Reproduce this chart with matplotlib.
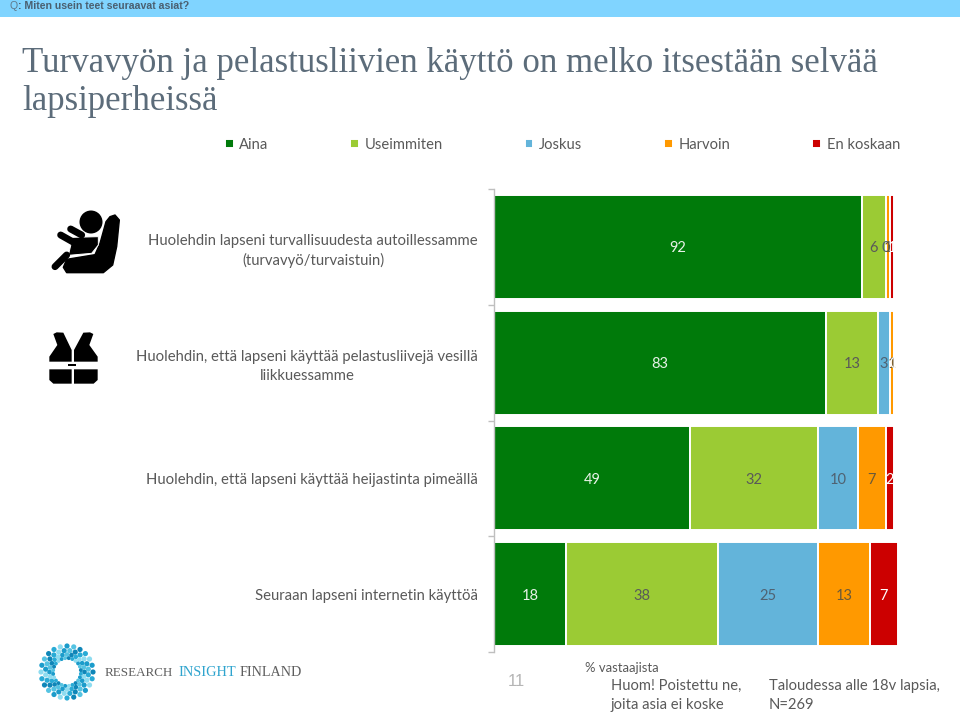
import numpy as np
import matplotlib
matplotlib.use('Agg')
import matplotlib.pyplot as plt
from matplotlib.patches import Polygon, Circle, Rectangle

# chart data
questions = ['Huolehdin lapseni turvallisuudesta autoillessamme\n(turvavyö/turvaistuin)',
             'Huolehdin, että lapseni käyttää pelastusliivejä vesillä\nliikkuessamme',
             'Huolehdin, että lapseni käyttää heijastinta pimeällä',
             'Seuraan lapseni internetin käyttöä']
aina = [92, 83, 49, 18]
useimmiten = [6, 13, 32, 38]
joskus = [0, 3, 10, 25]
harvoin = [1, 1, 7, 13]
en_koskaan = [1, 0, 2, 7]

series_names = ['Aina', 'Useimmiten', 'Joskus', 'Harvoin', 'En koskaan']
series_values = [aina, useimmiten, joskus, harvoin, en_koskaan]
series_colors = ['#007A0A', '#9BCB34', '#63B4DA', '#FF9900', '#CC0000']
label_colors = ['#E8F2E8', '#595959', '#4F6272', '#6B5A38', '#FFFFFF']

GRAY = '#595959'
W, H = 960, 715
plt.rcParams['font.family'] = ['Lato', 'DejaVu Sans']

fig = plt.figure(figsize=(W / 100, H / 100), dpi=100)

# pixel canvas for the header, icons and footer
bg = fig.add_axes([0, 0, 1, 1])
bg.set_xlim(0, W)
bg.set_ylim(H, 0)
bg.axis('off')

bg.add_patch(Rectangle((0, 0), W, 17, color='#80D4FF', lw=0))
bg.text(10, 6, 'Q', family='Liberation Sans', fontsize=7.6, color='#5F7A8C', va='center')
bg.text(18.3, 6, ': Miten usein teet seuraavat asiat?', family='Liberation Sans', fontsize=7.6,
        fontweight='bold', color='#4A5F70', va='center')

bg.text(22, 63.5, 'Turvavyön ja pelastusliivien käyttö on melko itsestään selvää',
        family='Liberation Serif', fontsize=25.1, color='#5C6C7A', va='center')
bg.text(22, 101.5, 'lapsiperheissä', family='Liberation Serif', fontsize=25.1, color='#5C6C7A', va='center')


def zoomed(points, ox=0, oy=180):
    return [(x / 3 + ox, y / 3 + oy) for x, y in points]


# car seat icon
seat = [(330, 110), (345, 105), (358, 120), (350, 200), (338, 255), (310, 278), (200, 278),
        (190, 262), (200, 238), (285, 224), (300, 190), (318, 125)]
torso = [(218, 172), (295, 170), (295, 195), (275, 220), (205, 226)]
bg.add_patch(Polygon(zoomed(seat), closed=True, fc='black', ec='black', lw=1, joinstyle='round'))
bg.add_patch(Polygon(zoomed(torso), closed=True, fc='black', ec='white', lw=0.7))
bg.add_patch(Circle((91, 222), 11.5, color='black', lw=0))
for line in ([(182, 165), (235, 195)], [(212, 147), (245, 165)], [(165, 260), (200, 225)]):
    xs, ys = zip(*zoomed(line))
    bg.plot(xs, ys, color='black', lw=5, solid_capstyle='round')

# life vest icon
vest_parts = [
    [(160, 462), (170, 457), (190, 458), (215, 510), (215, 545), (148, 545), (148, 530), (172, 495)],
    [(280, 462), (270, 457), (250, 458), (222, 510), (222, 545), (293, 545), (293, 530), (268, 495)],
    [(148, 568), (215, 568), (215, 611), (160, 611), (148, 600)],
    [(222, 568), (293, 568), (293, 600), (281, 611), (222, 611)],
    [(205, 553), (228, 553), (228, 559), (205, 559)],
]
for part in vest_parts:
    bg.add_patch(Polygon(zoomed(part), closed=True, fc='black', ec='none'))

# logo
logo_blues = ['#0F86B8', '#29ABD6', '#8EDCF0', '#1B9CCB', '#55C3E2']
for ring, (radius, n_dots, size) in enumerate([(26, 24, 14), (21.5, 24, 14), (17.5, 24, 11), (14, 24, 8)]):
    angle = np.linspace(0, 2 * np.pi, n_dots, endpoint=False) + ring * 0.13
    colors = [logo_blues[(i + ring) % 5] for i in range(n_dots)]
    bg.scatter(67 + radius * np.cos(angle), 672 + radius * np.sin(angle), s=size, c=colors, linewidths=0)
for x, word, color, size in [(105, 'RESEARCH', '#5E5E5E', 9.4), (178, 'INSIGHT', '#2FA4CE', 10.4),
                             (240, 'FINLAND', '#5E5E5E', 10.2)]:
    bg.text(x, 673, word, family='Liberation Serif', fontsize=size, color=color, va='center')

# footer
bg.text(516, 682, '11', family='Liberation Sans', fontsize=12, color='#B5B5B5', ha='center', va='center')
bg.text(585, 668, '% vastaajista', fontsize=9.4, color=GRAY, va='center')
bg.text(611, 686, 'Huom! Poistettu ne,', fontsize=10.6, color=GRAY, va='center')
bg.text(611, 705, 'joita asia ei koske', fontsize=10.6, color=GRAY, va='center')
bg.text(769, 686, 'Taloudessa alle 18v lapsia,', fontsize=10.6, color=GRAY, va='center')
bg.text(769, 705, 'N=269', fontsize=10.6, color=GRAY, va='center')

# stacked bars, 4 px per percentage point
left_px, top_px, bottom_px = 494, 189, 652
x_max = 110
ax = fig.add_axes([left_px / W, 1 - bottom_px / H, 4 * x_max / W, (bottom_px - top_px) / H])
ax.patch.set_alpha(0)
y = np.arange(len(questions))
left = np.zeros(len(questions))
for name, values, color, text_color in zip(series_names, series_values, series_colors, label_colors):
    bars = ax.barh(y, values, left=left, height=0.9, color=color, edgecolor='white', linewidth=1.4,
                   label=name)
    for t in ax.bar_label(bars, label_type='center', color=text_color, fontsize=10.5):
        t.xyann = (0, -1)
    left += np.array(values)

ax.set_xlim(0, x_max)
ax.set_ylim(3.5, -0.5)
ax.xaxis.set_visible(False)
for side in ['top', 'right', 'bottom']:
    ax.spines[side].set_visible(False)
ax.spines['left'].set_color('#BFBFBF')
ax.spines['left'].set_linewidth(1)
ax.set_yticks(np.arange(-0.5, 4))
ax.set_yticklabels([])
ax.tick_params(axis='y', which='major', length=4, width=1, color='#BFBFBF')
ax.set_yticks(y, minor=True)
ax.set_yticklabels(questions, minor=True, fontsize=10.7, color=GRAY, linespacing=1.45)
ax.tick_params(axis='y', which='minor', length=0, pad=11.5)
for label in ax.get_yticklabels(minor=True):
    label.set_multialignment('center')

handles, labels = ax.get_legend_handles_labels()
fig.legend(handles, labels, ncol=5, loc='center', bbox_to_anchor=(562.5 / W, 1 - 145 / H), frameon=False,
           fontsize=10.6, labelcolor=GRAY, handlelength=0.58, handleheight=0.58, handletextpad=0.4,
           columnspacing=5.55, borderpad=0, borderaxespad=0)

fig.savefig('out.png', dpi=100)
